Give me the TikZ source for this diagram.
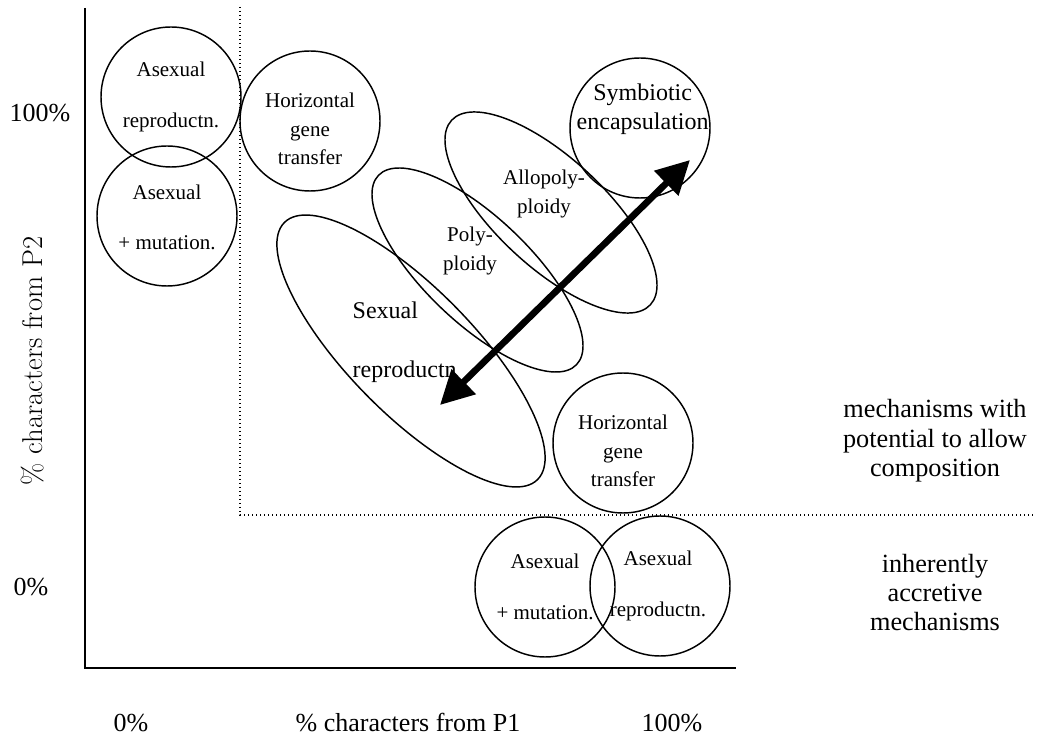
\documentclass[tikz,border=0pt]{standalone}
\usepackage{fontspec}
\newfontfamily\timesfont{Liberation Serif}
\usetikzlibrary{arrows.meta,shapes.geometric}

\begin{document}
\begin{tikzpicture}
% Mechanism map drawn on a pixel grid
\def\pxsz{0.75pt}
\providecommand{\mechLineWidth}{1.1pt}
\providecommand{\axisLineWidth}{2.2pt}
\providecommand{\arrowLineWidth}{5pt}
\begin{scope}[x=\pxsz, y=\pxsz, line join=miter,
  mechcircle/.style={circle, draw, line width=\mechLineWidth, minimum size=105pt, inner sep=0pt},
  mechoval/.style={ellipse, draw, line width=\mechLineWidth, inner sep=0pt},
  wideltxt/.style={font={\timesfont\fontsize{15.75}{38}\selectfont}, align=center},
  narrowtxt/.style={font={\timesfont\fontsize{15.75}{21.5}\selectfont}, align=center},
  bigtxt/.style={font={\timesfont\fontsize{18}{21.5}\selectfont}, align=center},
  axistxt/.style={font={\timesfont\fontsize{19.5}{22}\selectfont}},
  sidetxt/.style={font={\timesfont\fontsize{19.7}{22}\selectfont}, align=center},
  dotline/.style={line width=1pt, dash pattern=on 1pt off 2pt},
  bigarrow/.style={line width=\arrowLineWidth, {Triangle[length=25pt,width=25pt]}-{Triangle[length=25pt,width=25pt]}}]
  \useasboundingbox (0,0) rectangle (1040,740);
  % Axes
  \draw[line width=\axisLineWidth] (85,732) -- (85,72) -- (736,72);
  % Boundary of the composition region
  \draw[dotline] (240,733) -- (240,225) -- (1035,225);
  % Axis labels
  \node[axistxt] (ytop) at (40,627) {100\%};
  \node[axistxt] (ybot) at (31,153) {0\%};
  \node[font={\fontsize{21.5}{24}\selectfont}, rotate=90] (ylab) at (33,379) {\% characters from P2};
  \node[axistxt] (xleft) at (131,17) {0\%};
  \node[axistxt] (xlab) at (408,17) {\% characters from P1};
  \node[axistxt] (xright) at (672,17) {100\%};
  % Region labels
  \node[sidetxt] (compreg) at (935,299) {mechanisms with\\potential to allow\\composition};
  \node[sidetxt] (accrreg) at (935,147.5) {inherently\\accretive\\mechanisms};
  % Circles
  \node[mechcircle] (asexrep1) at (171,643) {};
  \node[mechcircle] (asexmut1) at (167,524) {};
  \node[mechcircle] (hgt1) at (310,619) {};
  \node[mechcircle] (symb) at (640,612) {};
  \node[mechcircle] (hgt2) at (623,297) {};
  \node[mechcircle] (asexmut2) at (545,153) {};
  \node[mechcircle] (asexrep2) at (660,154) {};
  \node[wideltxt] (asexrep1txt) at (asexrep1.center) {Asexual\\reproductn.};
  \node[wideltxt] (asexmut1txt) at ([yshift=-1pt]asexmut1.center) {Asexual\\+ mutation.};
  \node[narrowtxt] (hgt1txt) at ([yshift=-6pt]hgt1.center) {Horizontal\\gene\\transfer};
  \node[bigtxt] (symbtxt) at ([xshift=2pt,yshift=14pt]symb.center) {Symbiotic\\encapsulation};
  \node[narrowtxt] (hgt2txt) at ([yshift=-6pt]hgt2.center) {Horizontal\\gene\\transfer};
  \node[wideltxt] (asexmut2txt) at (asexmut2.center) {Asexual\\+ mutation.};
  \node[wideltxt] (asexrep2txt) at ([xshift=-1.5pt]asexrep2.center) {Asexual\\reproductn.};
  % Ellipses
  \node[mechoval, rotate=-45.5, minimum width=270.6pt, minimum height=93.9pt] (sexrep) at (411,389) {};
  \node[mechoval, rotate=-43.7, minimum width=205.5pt, minimum height=78.8pt] (poly) at (477.5,470) {};
  \node[mechoval, rotate=-42.9, minimum width=203.4pt, minimum height=81.5pt] (allopoly) at (551,527.5) {};
  \node[bigtxt, font={\timesfont\fontsize{18}{44}\selectfont}, align=left, anchor=west] (sexreptxt) at (348,397.5) {Sexual\\reproductn};
  \node[narrowtxt] (polytxt) at (470,489) {Poly-\\ploidy};
  \node[narrowtxt] (allopolytxt) at (544,546) {Allopoly-\\ploidy};
  % Double arrow
  \coordinate (lowtip) at (440,335);
  \coordinate (hightip) at (690,580);
  \draw[bigarrow] (lowtip) -- (hightip);
\end{scope}
\end{tikzpicture}
\end{document}
